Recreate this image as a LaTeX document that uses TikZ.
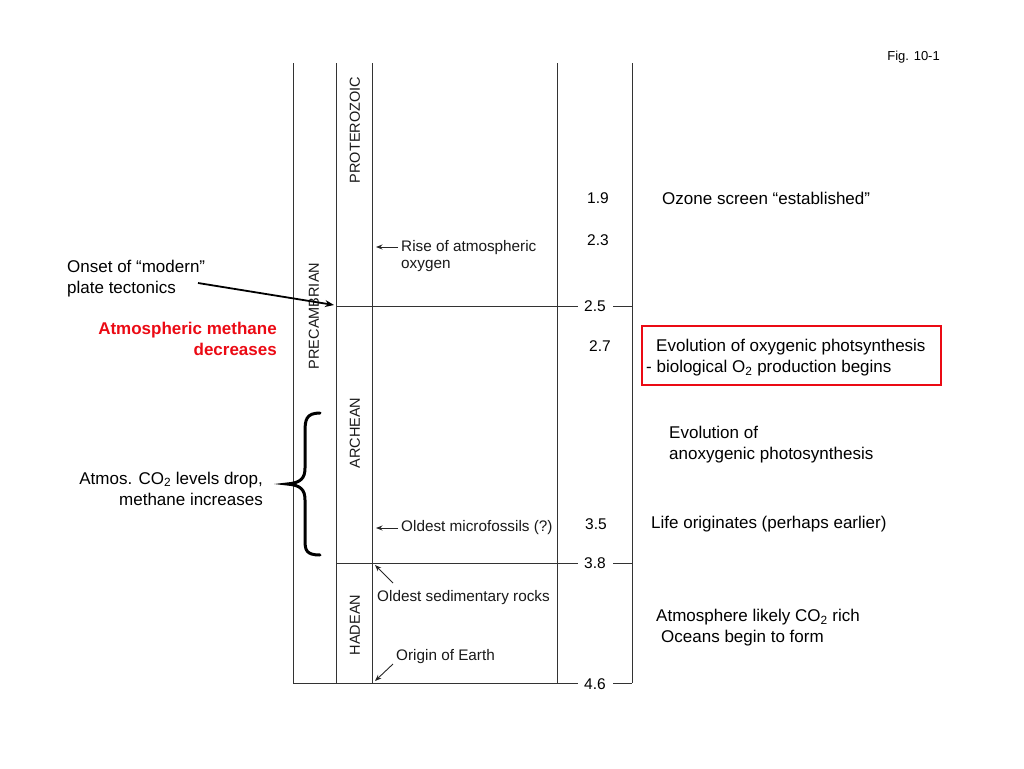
\documentclass[tikz,border=0pt]{standalone}
\usepackage{fontspec}
\setmainfont{Liberation Sans}
\usetikzlibrary{arrows.meta}
\begin{document}
\begin{tikzpicture}[x=1pt,y=-1pt,
  chart/.style={draw=black!80, line width=0.8pt},
  main/.style={inner sep=0pt, font=\fontsize{17}{21}\selectfont},
  small/.style={inner sep=0pt, font=\fontsize{15.3}{17.5}\selectfont, text=black!90},
  era/.style={inner sep=0pt, rotate=90, font=\fontsize{14.5}{17}\selectfont, text=black!90},
  num/.style={inner sep=0pt, font=\fontsize{15.5}{17}\selectfont},
  smallarrow/.style={draw=black!85, line width=0.9pt, -{Stealth[length=6.5pt,width=5pt]}},
  bigarrow/.style={draw=black, line width=1.8pt, -{Stealth[length=9pt,width=7pt]}}
]
\useasboundingbox (0,0) rectangle (1024,768);
% chart frame
\draw[chart] (293,63) -- (293,683);
\draw[chart] (336,63) -- (336,683);
\draw[chart] (372,63) -- (372,683);
\draw[chart] (557,63) -- (557,683);
\draw[chart] (632,63) -- (632,683);
% horizontal boundaries with numbers
\node[num] (n25) at (595,306) {2.5};
\node[num] (n38) at (595,563) {3.8};
\node[num] (n46) at (595,684) {4.6};
\draw[chart] (336,306) -- (578,306);
\draw[chart] (613,306) -- (632,306);
\draw[chart] (336,563) -- (578,563);
\draw[chart] (613,563) -- (632,563);
\draw[chart] (293,683) -- (578,683);
\draw[chart] (613,683) -- (632,683);
% era labels
\node[era] (prot) at (355,130) {PROTEROZOIC};
\node[era] (prec) at (314,316) {PRECAMBRIAN};
\node[era] (arch) at (355,433) {ARCHEAN};
\node[era] (hade) at (355,625) {HADEAN};
% numbers
\node[num] (n19) at (598,198) {1.9};
\node[num] (n23) at (598,240) {2.3};
\node[num] (n27) at (600,346) {2.7};
\node[num] (n35) at (596,524) {3.5};
% chart annotations
\node[small, anchor=north west, align=left] (rise) at (401,240) {Rise of atmospheric\\oxygen};
\coordinate (riseend) at (376,247);
\draw[smallarrow] (398,247) -- (riseend);
\node[small, anchor=west] (micro) at (401,528) {Oldest microfossils (?)};
\coordinate (microend) at (376,528);
\draw[smallarrow] (micro.west) ++(-3,0) -- (microend);
\node[small, anchor=west] (sed) at (377,598) {Oldest sedimentary rocks};
\coordinate (sedend) at (375,565);
\draw[smallarrow] (393,583) -- (sedend);
\node[small, anchor=west] (orig) at (396,657) {Origin of Earth};
\coordinate (origend) at (375,681);
\draw[smallarrow] (393,664) -- (origend);
% left annotations
\node[main, anchor=west, align=left] (onset) at (67,279) {Onset of “modern”\\plate tectonics};
\coordinate (onsetend) at (334,305);
\draw[bigarrow] (198,283) -- (onsetend);
\node[main, anchor=east, align=right, text={rgb,255:red,235;green,10;blue,20}, font=\fontsize{17}{21}\selectfont\bfseries] (meth) at (277,339) {Atmospheric methane\\decreases};
\node[main, anchor=east, align=right] (co2) at (263,488.5) {Atmos. CO\textsubscript{2} levels drop,\\methane increases};
\draw[line width=3pt, line cap=round] (320,413) .. controls (306,413) and (305,420) .. (305,432) -- (305,468) .. controls (305,478) and (301,483) .. (287,484) .. controls (301,485) and (305,490) .. (305,500) -- (305,540) .. controls (305,550) and (306,555) .. (320,555);
% right annotations
\node[main, anchor=west] (ozone) at (662,198) {Ozone screen “established”};
\node[draw={rgb,255:red,235;green,10;blue,20}, line width=2.2pt, minimum width=299pt, minimum height=59pt, inner sep=0pt] (box) at (791.5,355.5) {};
\node[main, anchor=west, align=left] (oxy) at (646,358) {\hspace{10pt}Evolution of oxygenic photsynthesis\\- biological O\textsubscript{2} production begins};
\node[main, anchor=west, align=left] (anoxy) at (669,445) {Evolution of\\anoxygenic photosynthesis};
\node[main, anchor=west] (life) at (651,524) {Life originates (perhaps earlier)};
\node[main, anchor=west, align=left] (atm) at (656,628) {Atmosphere likely CO\textsubscript{2} rich\\\hspace{5pt}Oceans begin to form};
\node[inner sep=0pt, font=\fontsize{13}{15}\selectfont, anchor=east] (fig) at (940,57) {Fig. 10-1};
\end{tikzpicture}
\end{document}
